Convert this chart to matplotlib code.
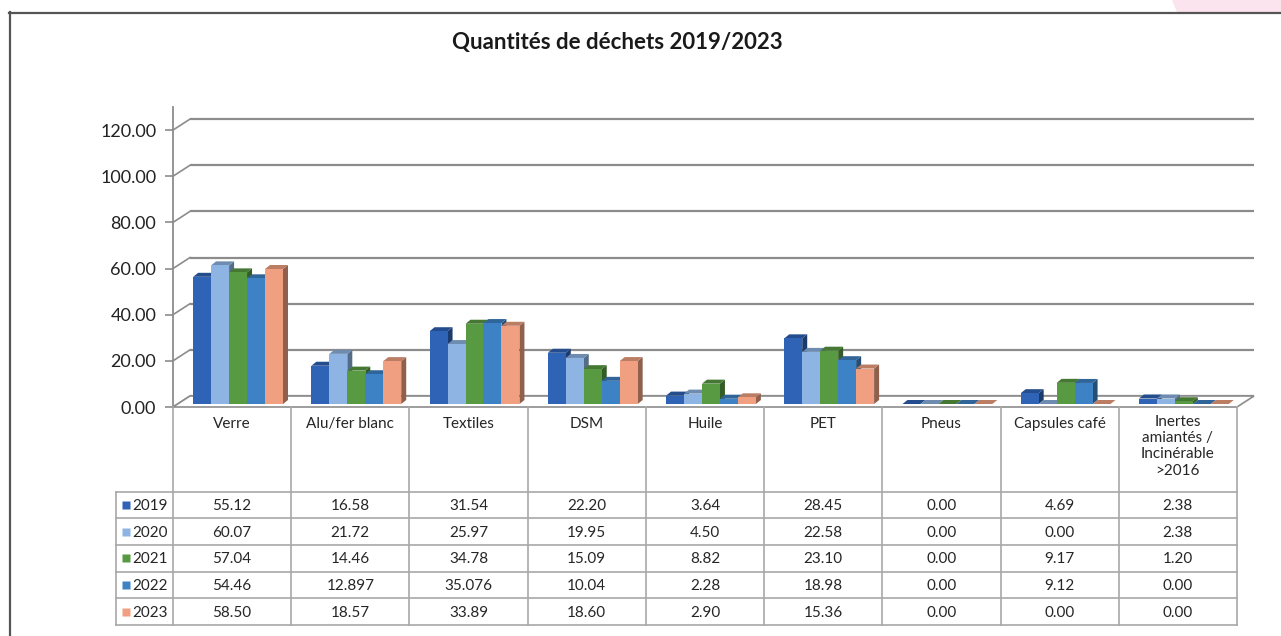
import matplotlib
matplotlib.use("Agg")
import matplotlib.pyplot as plt
from matplotlib.patches import Polygon
import numpy as np

plt.rcParams['font.family'] = ['Lato', 'DejaVu Sans']

# ---------------- data ----------------
title = "Quantités de déchets 2019/2023"
categories = ["Verre", "Alu/fer blanc", "Textiles", "DSM", "Huile", "PET", "Pneus",
              "Capsules café", "Inertes\namiantés /\nIncinérable\n>2016"]
years = ["2019", "2020", "2021", "2022", "2023"]
v2019 = [55.12, 16.58, 31.54, 22.20, 3.64, 28.45, 0.00, 4.69, 2.38]
v2020 = [60.07, 21.72, 25.97, 19.95, 4.50, 22.58, 0.00, 0.00, 2.38]
v2021 = [57.04, 14.46, 34.78, 15.09, 8.82, 23.10, 0.00, 9.17, 1.20]
v2022 = [54.46, 12.897, 35.076, 10.04, 2.28, 18.98, 0.00, 9.12, 0.00]
v2023 = [58.50, 18.57, 33.89, 18.60, 2.90, 15.36, 0.00, 0.00, 0.00]
series = [v2019, v2020, v2021, v2022, v2023]
colors = ["#2E63B5", "#8DB4E2", "#579A41", "#3D82C4", "#F0A080"]
yticks = [0, 20, 40, 60, 80, 100, 120]

# ---------------- figure geometry (pixels) ----------------
W, H = 1281, 636
DPI = 100
fig = plt.figure(figsize=(W / DPI, H / DPI), dpi=DPI)

def fx(px):
    return px / W

def fy(py):
    return 1 - py / H

ax_left, ax_right = 173, 1237
ax_top, ax_bottom = 107, 407
ymax = 130
ncat = len(categories)
ax = fig.add_axes([fx(ax_left), fy(ax_bottom), fx(ax_right - ax_left), (ax_bottom - ax_top) / H])
ax.set_xlim(0, ncat)
ax.set_ylim(0, ymax)

kx = ncat / (ax_right - ax_left)      # data units per pixel (x)
ky = ymax / (ax_bottom - ax_top)      # data units per pixel (y)

grid_c = "#8C8C8C"
# back wall offset
bdx, bdy = 17 * kx, 11 * ky
for v in yticks:
    ax.plot([bdx, ncat + bdx], [v + bdy, v + bdy], color=grid_c, lw=1.6, zorder=1, clip_on=False,
            solid_capstyle='butt')
    ax.plot([0, bdx], [v, v + bdy], color=grid_c, lw=1.2, zorder=1, clip_on=False)
# floor
floor = Polygon([[0, 0], [ncat, 0], [ncat + bdx, bdy], [bdx, bdy]], closed=True,
                facecolor="white", edgecolor=grid_c, lw=1.2, zorder=1.5, clip_on=False)
ax.add_patch(floor)

# bars
nser = len(series)
group_w = 0.76
bw = group_w / nser
gstart = 0.145
odx, ody = 3 * kx, 3 * ky          # bar placement depth
ddx, ddy = 5 * kx, 4 * ky          # bar depth

def shade(c, f):
    rgb = np.array(matplotlib.colors.to_rgb(c))
    return tuple(rgb * f)

x = np.arange(ncat)
for k, (vals, col) in enumerate(zip(series, colors)):
    xs = x + gstart + bw * k + odx
    z = 3 + k * 0.1
    ax.bar(xs, vals, width=bw, bottom=ody, align='edge', color=col, edgecolor='none',
           zorder=z + 0.02, clip_on=False)
    for xi, v in zip(xs, vals):
        top = ody + v
        tp = Polygon([[xi, top], [xi + bw, top], [xi + bw + ddx, top + ddy], [xi + ddx, top + ddy]],
                     closed=True, facecolor=shade(col, 0.78), edgecolor='none', zorder=z + 0.01,
                     clip_on=False)
        sp = Polygon([[xi + bw, ody], [xi + bw, top], [xi + bw + ddx, top + ddy], [xi + bw + ddx, ody + ddy]],
                     closed=True, facecolor=shade(col, 0.6), edgecolor='none', zorder=z,
                     clip_on=False)
        ax.add_patch(tp)
        ax.add_patch(sp)

for s in ["top", "right", "bottom"]:
    ax.spines[s].set_visible(False)
ax.spines["left"].set_color(grid_c)
ax.spines["left"].set_linewidth(1.3)
ax.set_xticks([])
ax.set_yticks(yticks)
ax.set_yticklabels([f"{v:.2f}" for v in yticks], fontsize=13, color="#222222")
ax.tick_params(axis='y', length=6, width=1.2, color=grid_c, pad=6)
ax.patch.set_alpha(0)

# ---------------- table ----------------
leg_left = 116
tab_bottom = 625
header_h = 84.7
row_h = (tab_bottom - ax_bottom - header_h) / nser
xmin_t = -(ax_left - leg_left) * kx
axt = fig.add_axes([fx(leg_left), fy(tab_bottom), fx(ax_right - leg_left), (tab_bottom - ax_bottom) / H])
axt.set_xlim(xmin_t, ncat)
axt.set_ylim(tab_bottom - ax_bottom, 0)
axt.axis("off")

tc = "#A8A8A8"
tot = tab_bottom - ax_bottom
for i in range(ncat + 1):
    axt.plot([i, i], [0, tot], color=tc, lw=1.2, clip_on=False)
axt.plot([xmin_t, xmin_t], [header_h, tot], color=tc, lw=1.2, clip_on=False)
for r in range(nser + 1):
    yy = header_h + r * row_h
    axt.plot([xmin_t, ncat], [yy, yy], color=tc, lw=1.2, clip_on=False)

tfs = 11
for i, cat in enumerate(categories):
    if "\n" in cat:
        axt.text(i + 0.5, 8, cat, ha='center', va='top', fontsize=tfs, color="#262626",
                 linespacing=1.2)
    else:
        axt.text(i + 0.5, 17, cat, ha='center', va='center', fontsize=tfs, color="#262626")

def fmt(v):
    return f"{v:.2f}" if abs(round(v, 2) - v) < 1e-9 else f"{v:g}"

for r, (yr, vals, col) in enumerate(zip(years, series, colors)):
    yc = header_h + (r + 0.5) * row_h
    axt.plot([xmin_t + 10 * kx], [yc], marker='s', ms=5.5, color=col, mec='none', clip_on=False)
    axt.text(xmin_t + 16 * kx, yc + 1, yr, ha='left', va='center', fontsize=tfs, color="#262626")
    for i, v in enumerate(vals):
        axt.text(i + 0.5, yc + 1, fmt(v), ha='center', va='center', fontsize=tfs, color="#262626")

# ---------------- title & frame ----------------
fig.text(fx(617), fy(42), title, ha='center', va='center', fontsize=16, fontweight='bold',
         color="#1a1a1a")

fig.add_artist(Polygon([[fx(1172), fy(0)], [fx(1281), fy(0)], [fx(1281), fy(12)], [fx(1177), fy(12)]],
                       closed=True, transform=fig.transFigure, facecolor="#FCE4EE", edgecolor='none'))
fig.add_artist(plt.Line2D([fx(9), fx(1281)], [fy(12.5), fy(12.5)], transform=fig.transFigure,
                          color="#555555", lw=1.6))
fig.add_artist(plt.Line2D([fx(9.5), fx(9.5)], [fy(12), fy(636)], transform=fig.transFigure,
                          color="#555555", lw=1.6))

fig.savefig("out.png", dpi=DPI, facecolor="white")
